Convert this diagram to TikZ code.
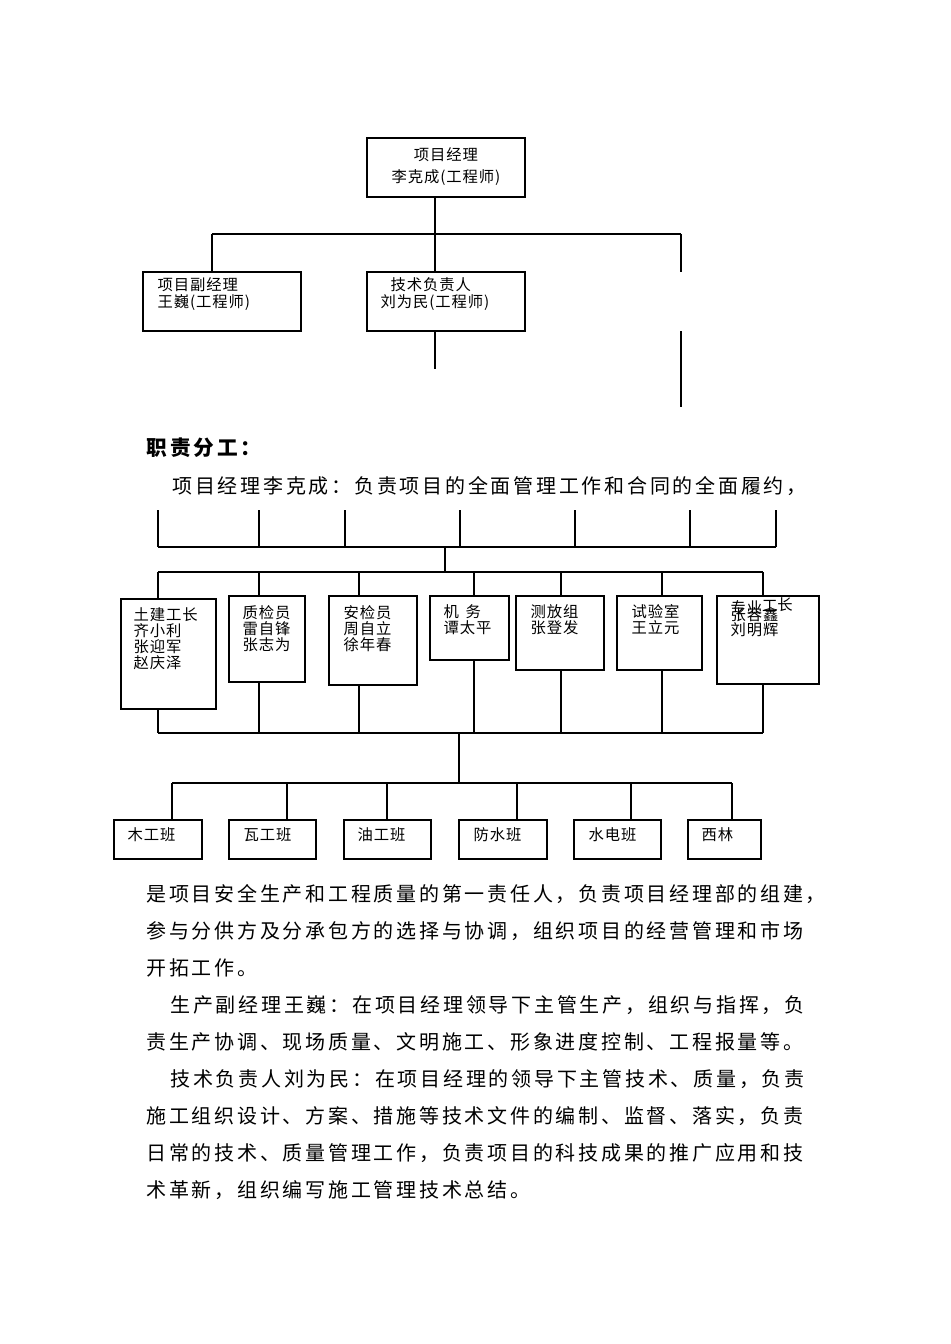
\documentclass[tikz,border=0pt]{standalone}
\usepackage{fontspec}
\setmainfont{Noto Sans CJK SC}
\newfontfamily\bodyfont[LetterSpace=13.7]{Noto Sans CJK SC}
\newfontfamily\boxfont[LetterSpace=6]{Noto Sans CJK SC}
\usetikzlibrary{fit}

\begin{document}
\begin{tikzpicture}[x=.75pt, y=-.75pt, line width=.8pt,
    box/.style={draw, line width=.9pt, inner sep=0pt},
    lbl/.style={anchor=west, inner sep=0pt, align=left, font=\boxfont\fontsize{11.5}{12}\selectfont},
    para/.style={anchor=west, inner sep=0pt, font=\bodyfont\fontsize{15}{17}\selectfont}]
  \useasboundingbox (0,0) rectangle (950,1344);

  % top: manager and deputies
  \node (pm) [box, fit={(367,138) (525,197)}] {};
  \node (pmt) at (446,167) [lbl, anchor=center, align=center, font=\boxfont\fontsize{11.5}{16.5}\selectfont] {项目经理\\李克成(工程师)};
  \node (vpm) [box, fit={(143,272) (301,331)}] {};
  \node (vpmt) at (157,294.5) [lbl, font=\boxfont\fontsize{11.5}{12.75}\selectfont] {项目副经理\\王巍(工程师)};
  \node (tech) [box, fit={(367,272) (525,331)}] {};
  \node (techt) at (380,294.5) [lbl, font=\boxfont\fontsize{11.5}{12.75}\selectfont] {\hspace*{7.5pt}技术负责人\\刘为民(工程师)};

  \coordinate (t1) at (435,234);
  \coordinate (tl) at (212,234);
  \coordinate (tr) at (681,234);
  \coordinate (tr2) at (681,272);
  \coordinate (r1) at (681,331);
  \coordinate (r2) at (681,407);
  \coordinate (t2) at (435,369);
  \draw (pm.south -| t1) -- (t1);
  \draw (tl) -- (tr);
  \draw (tl) -- (vpm.north -| tl);
  \draw (t1) -- (tech.north -| t1);
  \draw (tr) -- (tr2);
  \draw (r1) -- (r2);
  \draw (tech.south -| t2) -- (t2);

  % text
  \node (head) at (146,448) [para, font=\bodyfont\fontsize{15.5}{17}\selectfont\bfseries] {职责分工：};
  \node (p0) at (172,486) [para] {项目经理李克成：负责项目的全面管理工作和合同的全面履约，};

  % middle: team leaders
  \coordinate (ua) at (158,547);
  \coordinate (ub) at (776,547);
  \draw (ua) -- (ub);
  \foreach \x [count=\i] in {158,259,345,460,575,690,776} {
    \coordinate (f\i) at (\x,510);
    \draw (f\i) -- (f\i |- ua);
  }
  \coordinate (s1) at (445,547);
  \coordinate (s2) at (445,572);
  \draw (s1) -- (s2);

  \node (b1) [box, fit={(121,599) (216,709)}] {};
  \node (b2) [box, fit={(229,596) (305,682)}] {};
  \node (b3) [box, fit={(329,596) (417,685)}] {};
  \node (b4) [box, fit={(430,596) (509,660)}] {};
  \node (b5) [box, fit={(516,596) (604,670)}] {};
  \node (b6) [box, fit={(617,596) (702,670)}] {};
  \node (b7) [box, fit={(717,596) (819,684)}] {};
  \node (b1t) at (133,639) [lbl] {土建工长\\齐小利\\张迎军\\赵庆泽};
  \node (b2t) at (242,628.5) [lbl] {质检员\\雷自锋\\张志为};
  \node (b3t) at (343,628.5) [lbl] {安检员\\周自立\\徐年春};
  \node (b4t) at (443,619.5) [lbl] {机\hspace{5pt}务\\谭太平};
  \node (b5t) at (530,619.5) [lbl] {测放组\\张登发};
  \node (b6t) at (631,619.5) [lbl] {试验室\\王立元};
  \node (b7t) at (730,606) [lbl] {专业\raisebox{1.5pt}{工}\raisebox{2pt}{长}};
  \node (b7n) at (730,622) [lbl, font=\boxfont\fontsize{11.5}{9}\selectfont] {张容鑫\\刘明辉};

  \coordinate (va) at (158,572);
  \coordinate (vb) at (763,572);
  \coordinate (wa) at (158,733);
  \coordinate (wb) at (763,733);
  \draw (va) -- (vb);
  \draw (wa) -- (wb);
  \foreach \b/\x in {b1/158,b2/259,b3/359,b4/474,b5/561,b6/662,b7/763} {
    \coordinate (\b u) at (\x,572);
    \coordinate (\b d) at (\x,733);
    \draw (\b u) -- (\b.north -| \b u);
    \draw (\b.south -| \b d) -- (\b d);
  }
  \coordinate (s3) at (459,733);
  \coordinate (s4) at (459,783);
  \draw (s3) -- (s4);

  % bottom: work crews
  \coordinate (xa) at (172,783);
  \coordinate (xb) at (732,783);
  \draw (xa) -- (xb);
  \node (c1) [box, fit={(114,820) (202,859)}] {};
  \node (c2) [box, fit={(229,820) (316,859)}] {};
  \node (c3) [box, fit={(344,820) (431,859)}] {};
  \node (c4) [box, fit={(459,820) (547,859)}] {};
  \node (c5) [box, fit={(574,820) (661,859)}] {};
  \node (c6) [box, fit={(688,820) (761,859)}] {};
  \node (c1t) at (127,835) [lbl] {木工班};
  \node (c2t) at (243,835) [lbl] {瓦工班};
  \node (c3t) at (357,835) [lbl] {油工班};
  \node (c4t) at (473,835) [lbl] {防水班};
  \node (c5t) at (588,835) [lbl] {水电班};
  \node (c6t) at (701,835) [lbl] {西林};
  \foreach \c/\x in {c1/172,c2/287,c3/387,c4/517,c5/631,c6/732} {
    \coordinate (\c u) at (\x,783);
    \draw (\c u) -- (\c.north -| \c u);
  }

  % duties
  \node (p1) at (146,894) [para] {是项目安全生产和工程质量的第一责任人，负责项目经理部的组建，};
  \node (p2) at (146,931) [para] {参与分供方及分承包方的选择与协调，组织项目的经营管理和市场};
  \node (p3) at (146,968) [para] {开拓工作。};
  \node (p4) at (170,1005) [para] {生产副经理王巍：在项目经理领导下主管生产，组织与指挥，负};
  \node (p5) at (146,1042) [para] {责生产协调、现场质量、文明施工、形象进度控制、工程报量等。};
  \node (p6) at (170,1079) [para] {技术负责人刘为民：在项目经理的领导下主管技术、质量，负责};
  \node (p7) at (146,1116) [para] {施工组织设计、方案、措施等技术文件的编制、监督、落实，负责};
  \node (p8) at (146,1153) [para] {日常的技术、质量管理工作，负责项目的科技成果的推广应用和技};
  \node (p9) at (146,1190) [para] {术革新，组织编写施工管理技术总结。};
\end{tikzpicture}
\end{document}
